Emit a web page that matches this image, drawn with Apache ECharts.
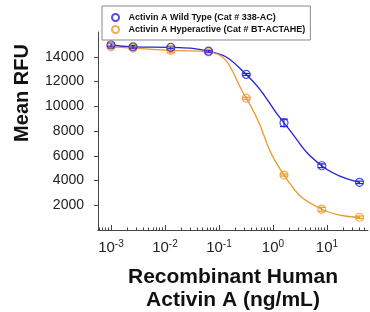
<!DOCTYPE html>
<html>
<head>
<meta charset="utf-8">
<script src="https://cdn.jsdelivr.net/npm/echarts@6/dist/echarts.min.js"></script>
<style>
  html, body { margin: 0; padding: 0; background: #fff; }
  #chart { width: 370px; height: 312px; }
</style>
</head>
<body>
<div id="chart"></div>
<script>
// concentration (ng/mL), 5-fold dilutions plus the blank at 10^-3
const conc = [0.001, 0.00256, 0.0128, 0.064, 0.32, 1.6, 8, 40]
const wildType = [14950, 14800, 14750, 14450, 12570, 8660, 5190, 3850]
const wildTypeErr = [150, 100, 100, 80, 80, 300, 150, 100]
const hyper = [14800, 14700, 14520, 14390, 10650, 4440, 1680, 1030]
const hyperErr = [120, 100, 200, 80, 80, 80, 150, 100]
const decades = [-3, -2, -1, 0, 1]
const yTicks = [2000, 4000, 6000, 8000, 10000, 12000, 14000]

const BLUE = '#2323d8'
const ORANGE = '#e99a2a'
const FONT = 'Liberation Sans'

const minorTicks = []
decades.concat([-4]).forEach(d => {
  for (let k = 2; k < 10; k++) minorTicks.push(Math.log10(k * Math.pow(10, d)))
})

function pts(vals) {
  return conc.map((c, i) => [Math.log10(c), vals[i]])
}
function errPts(vals, errs) {
  return conc.map((c, i) => [Math.log10(c), vals[i], errs[i]])
}

function errorBars(color) {
  return function (params, api) {
    const x = api.value(0), y = api.value(1), e = api.value(2)
    const top = api.coord([x, y + e])
    const bot = api.coord([x, y - e])
    const hw = 4
    const style = { stroke: color, lineWidth: 1.2 }
    return {
      type: 'group',
      children: [
        { type: 'line', shape: { x1: top[0], y1: top[1], x2: bot[0], y2: bot[1] }, style },
        { type: 'line', shape: { x1: top[0] - hw, y1: top[1], x2: top[0] + hw, y2: top[1] }, style },
        { type: 'line', shape: { x1: bot[0] - hw, y1: bot[1], x2: bot[0] + hw, y2: bot[1] }, style }
      ]
    }
  }
}

const chart = echarts.init(document.getElementById('chart'))
chart.setOption({
  animation: false,
  grid: { left: 98, right: 2, top: 32, bottom: 82, outerBoundsMode: 'none', containLabel: false },
  legend: {
    orient: 'vertical',
    left: 102,
    top: 6,
    padding: [7, 5, 6, 9],
    itemGap: 3,
    itemWidth: 16,
    itemHeight: 7,
    backgroundColor: '#fff',
    borderColor: '#888',
    borderWidth: 1,
    data: ['Activin A Wild Type (Cat # 338-AC)', 'Activin A Hyperactive (Cat # BT-ACTAHE)'],
    textStyle: { fontFamily: FONT, fontSize: 9, fontWeight: 'bold', color: '#111' }
  },
  xAxis: [
    {
      type: 'value',
      min: -3.24,
      max: 1.76,
      name: 'Recombinant Human\nActivin A (ng/mL)',
      nameLocation: 'middle',
      nameGap: 36,
      nameTextStyle: { fontFamily: FONT, fontSize: 21, fontWeight: 'bold', color: '#111', lineHeight: 23, verticalAlign: 'top' },
      axisLine: { onZero: false, lineStyle: { color: '#444', width: 1 } },
      splitLine: { show: false },
      axisTick: { inside: true, length: 5, customValues: decades, lineStyle: { color: '#444' } },
      axisLabel: {
        customValues: decades,
        margin: 9,
        formatter: v => '{b|10}{s|' + Math.round(v) + '}',
        rich: {
          b: { fontFamily: FONT, fontSize: 15, color: '#222', lineHeight: 17 },
          s: { fontFamily: FONT, fontSize: 10, color: '#222', verticalAlign: 'top', lineHeight: 10 }
        }
      }
    },
    {
      type: 'value',
      min: -3.24,
      max: 1.76,
      position: 'bottom',
      axisLine: { show: false, onZero: false },
      splitLine: { show: false },
      axisLabel: { show: false },
      axisTick: { inside: true, length: 2.5, customValues: minorTicks, lineStyle: { color: '#444' } }
    }
  ],
  yAxis: {
    type: 'value',
    min: 0,
    max: 16000,
    interval: 2000,
    splitLine: { show: false },
    axisLine: { show: true, onZero: false, lineStyle: { color: '#444', width: 1 } },
    axisTick: { show: true, length: 4, customValues: yTicks, lineStyle: { color: '#444' } },
    axisLabel: {
      margin: 14,
      customValues: yTicks,
      formatter: v => String(v),
      fontFamily: FONT,
      fontSize: 14,
      color: '#222'
    }
  },
  graphic: [
    {
      type: 'text',
      x: 22,
      y: 93,
      rotation: Math.PI / 2,
      style: {
        text: 'Mean RFU',
        fontFamily: FONT,
        fontSize: 20,
        fontWeight: 'bold',
        fill: '#111',
        align: 'center',
        verticalAlign: 'middle'
      }
    }
  ],
  series: [
    {
      type: 'line',
      data: pts(wildType),
      smooth: 0.5,
      showSymbol: false,
      lineStyle: { color: BLUE, width: 1.3 },
      z: 2
    },
    {
      type: 'line',
      data: pts(hyper),
      smooth: 0.5,
      showSymbol: false,
      lineStyle: { color: ORANGE, width: 1.3 },
      z: 2
    },
    {
      type: 'custom',
      data: errPts(hyper, hyperErr),
      renderItem: errorBars(ORANGE),
      z: 3
    },
    {
      type: 'custom',
      data: errPts(wildType, wildTypeErr),
      renderItem: errorBars(BLUE),
      z: 3
    },
    {
      name: 'Activin A Hyperactive (Cat # BT-ACTAHE)',
      type: 'scatter',
      data: pts(hyper),
      symbol: 'circle',
      symbolSize: 8,
      itemStyle: { color: 'rgba(0,0,0,0)', borderColor: ORANGE, borderWidth: 1.2 },
      z: 4
    },
    {
      name: 'Activin A Wild Type (Cat # 338-AC)',
      type: 'scatter',
      data: pts(wildType),
      symbol: 'circle',
      symbolSize: 8,
      itemStyle: { color: 'rgba(0,0,0,0)', borderColor: BLUE, borderWidth: 1.2 },
      z: 4
    }
  ]
})
</script>
</body>
</html>
